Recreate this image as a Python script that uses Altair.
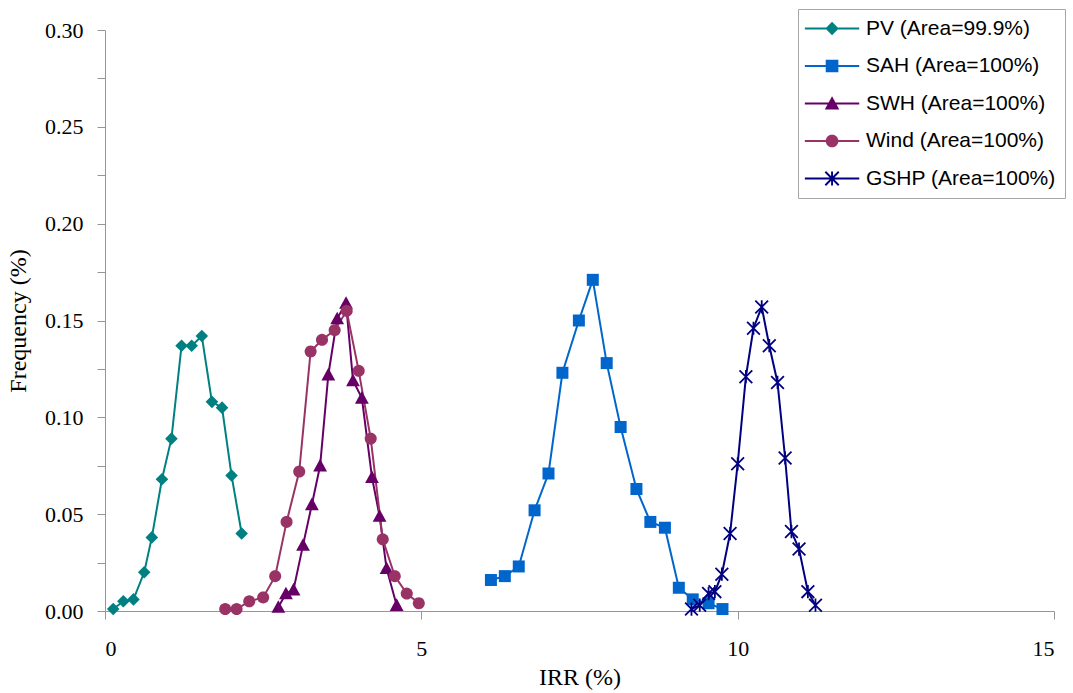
import math
import altair as alt
import pandas as pd

# ---------------- data ----------------
series_names = ["PV", "SAH", "SWH", "Wind", "GSHP"]
legend_labels = ["PV (Area=99.9%)", "SAH (Area=100%)", "SWH (Area=100%)",
                 "Wind (Area=100%)", "GSHP (Area=100%)"]
colors = ["#008080", "#0066CC", "#660066", "#993366", "#000080"]

pv_x = [0.13, 0.29, 0.45, 0.62, 0.74, 0.90, 1.05, 1.21, 1.37, 1.53, 1.69, 1.85, 2.00, 2.16]
pv_y = [0.001, 0.005, 0.006, 0.020, 0.038, 0.068, 0.089, 0.137, 0.137, 0.142, 0.108, 0.105, 0.070, 0.040]

sah_x = [6.10, 6.32, 6.54, 6.79, 7.01, 7.23, 7.49, 7.71, 7.93, 8.15, 8.40, 8.62, 8.85, 9.07, 9.29, 9.54, 9.76]
sah_y = [0.016, 0.018, 0.023, 0.052, 0.071, 0.123, 0.150, 0.171, 0.128, 0.095, 0.063, 0.046, 0.043, 0.012, 0.006, 0.004, 0.001]

swh_x = [2.74, 2.86, 2.98, 3.13, 3.27, 3.40, 3.53, 3.67, 3.81, 3.92, 4.06, 4.22, 4.34, 4.45, 4.61]
swh_y = [0.002, 0.009, 0.011, 0.034, 0.055, 0.075, 0.122, 0.151, 0.159, 0.119, 0.110, 0.069, 0.049, 0.022, 0.003]

wind_x = [1.90, 2.08, 2.28, 2.50, 2.69, 2.87, 3.07, 3.25, 3.43, 3.63, 3.82, 4.01, 4.20, 4.39, 4.58, 4.77, 4.96]
wind_y = [0.001, 0.001, 0.005, 0.007, 0.018, 0.046, 0.072, 0.134, 0.140, 0.145, 0.155, 0.124, 0.089, 0.037, 0.018, 0.009, 0.004]

gshp_x = [9.27, 9.40, 9.54, 9.64, 9.75, 9.88, 10.00, 10.13, 10.25, 10.38, 10.50, 10.63, 10.75, 10.85, 10.97, 11.11, 11.23]
gshp_y = [0.001, 0.003, 0.009, 0.010, 0.019, 0.040, 0.076, 0.121, 0.146, 0.157, 0.137, 0.118, 0.079, 0.041, 0.032, 0.010, 0.003]

x_ticks = [0, 5, 10, 15]
y_ticks = [0.0, 0.025, 0.05, 0.075, 0.1, 0.125, 0.15, 0.175, 0.2, 0.225, 0.25, 0.275, 0.3]

# ---------------- table ----------------
series_data = [(pv_x, pv_y), (sah_x, sah_y), (swh_x, swh_y), (wind_x, wind_y), (gshp_x, gshp_y)]
rows = []
for name, label, (xs, ys) in zip(series_names, legend_labels, series_data):
    for xv, yv in zip(xs, ys):
        rows.append({"series": name, "label": label, "irr": xv, "freq": yv})
df = pd.DataFrame(rows)

# ---------------- marker shapes (custom SVG paths, unit box) ----------------
def poly(pts, dx=0.0):
    return "M" + " L".join(f"{x + dx:.3f},{y:.3f}" for x, y in pts) + " Z"

def bar(angle_deg, half_len, half_w):
    a = math.radians(angle_deg)
    c = (math.cos(a), math.sin(a))
    n = (-math.sin(a), math.cos(a))
    pts = []
    for sl, sw in [(-1, -1), (1, -1), (1, 1), (-1, 1)]:
        pts.append((c[0] * sl * half_len + n[0] * sw * half_w,
                    c[1] * sl * half_len + n[1] * sw * half_w))
    return pts

diamond = [(-1.05, 0), (0, -1.05), (1.05, 0), (0, 1.05)]
square = [(-1, -1), (1, -1), (1, 1), (-1, 1)]
triangle = [(0, -1.15), (1.15, 0.95), (-1.15, 0.95)]
circle = [(math.cos(2 * math.pi * k / 28), math.sin(2 * math.pi * k / 28)) for k in range(28)]
asterisk = [bar(90, 1.1, 0.15), bar(45, 1.5, 0.15), bar(135, 1.5, 0.15)]

def shape_path(kind, dx=0.0):
    if kind == "asterisk":
        return " ".join(poly(b, dx) for b in asterisk)
    return poly({"diamond": diamond, "square": square, "triangle": triangle, "circle": circle}[kind], dx)

kinds = ["diamond", "square", "triangle", "circle", "asterisk"]
chart_paths = [shape_path(k) for k in kinds]

# legend symbols: marker + horizontal line through it
shift = 2.3
line_half = 4.3
line_bar = [(-line_half + shift, -0.16), (line_half + shift, -0.16), (line_half + shift, 0.16), (-line_half + shift, 0.16)]
legend_paths = [poly(line_bar) + " " + shape_path(k, shift) for k in kinds]

# ---------------- chart ----------------
serif = "Liberation Serif"
x_enc = alt.X("irr:Q", scale=alt.Scale(domain=[0, 15], nice=False),
              axis=alt.Axis(values=x_ticks, format="d", title="IRR (%)", grid=False,
                            labelFont=serif, labelFontSize=22, titleFont=serif, titleFontSize=24,
                            tickSize=8, labelPadding=19, titlePadding=6))
y_enc = alt.Y("freq:Q", scale=alt.Scale(domain=[0, 0.30], nice=False),
              axis=alt.Axis(values=y_ticks, title="Frequency (%)", grid=False,
                            labelFont=serif, labelFontSize=22, titleFont=serif, titleFontSize=24,
                            labelExpr="round(datum.value*1000) % 50 == 0 ? format(datum.value, '.2f') : ''",
                            tickSize=8, labelPadding=14, titlePadding=14))

color_main = alt.Color("series:N", scale=alt.Scale(domain=series_names, range=colors), legend=None)

lines = alt.Chart(df).mark_line(strokeWidth=2).encode(
    x=x_enc, y=y_enc, color=color_main, detail="series:N", order="irr:Q")

points = alt.Chart(df).mark_point(filled=True, opacity=1, size=144, strokeWidth=0).encode(
    x=x_enc, y=y_enc, color=color_main,
    shape=alt.Shape("series:N", scale=alt.Scale(domain=series_names, range=chart_paths), legend=None))

leg = alt.Legend(title=None, orient="none", legendX=693, legendY=-21,
                 labelFont="Liberation Sans", labelFontSize=21, labelColor="black",
                 symbolSize=160, symbolStrokeWidth=0, symbolOpacity=1,
                 labelOffset=38, rowPadding=15.5, padding=9,
                 strokeColor="#a6a6a6", fillColor="white", labelLimit=400)

legend_layer = alt.Chart(df).transform_filter("false").mark_point(
    filled=True, opacity=1, size=160, strokeWidth=0).encode(
    x=x_enc, y=y_enc,
    color=alt.Color("label:N", scale=alt.Scale(domain=legend_labels, range=colors), legend=leg),
    shape=alt.Shape("label:N", scale=alt.Scale(domain=legend_labels, range=legend_paths), legend=leg))

chart = alt.layer(lines, points, legend_layer).resolve_scale(
    color="independent", shape="independent"
).properties(
    width=949, height=581,
    autosize=alt.AutoSizeParams(type="none"),
    padding={"left": 105, "top": 30, "right": 19, "bottom": 82},
    background="white",
).configure_view(stroke=None).configure_axis(
    domainColor="#969696", tickColor="#969696", domainWidth=1, tickWidth=1,
    labelFont=serif, labelFontSize=22, labelColor="black",
    titleFont=serif, titleFontSize=24, titleColor="black", titleFontWeight="normal",
)

chart.save("out.html", embed_options={"renderer": "svg", "actions": False})
